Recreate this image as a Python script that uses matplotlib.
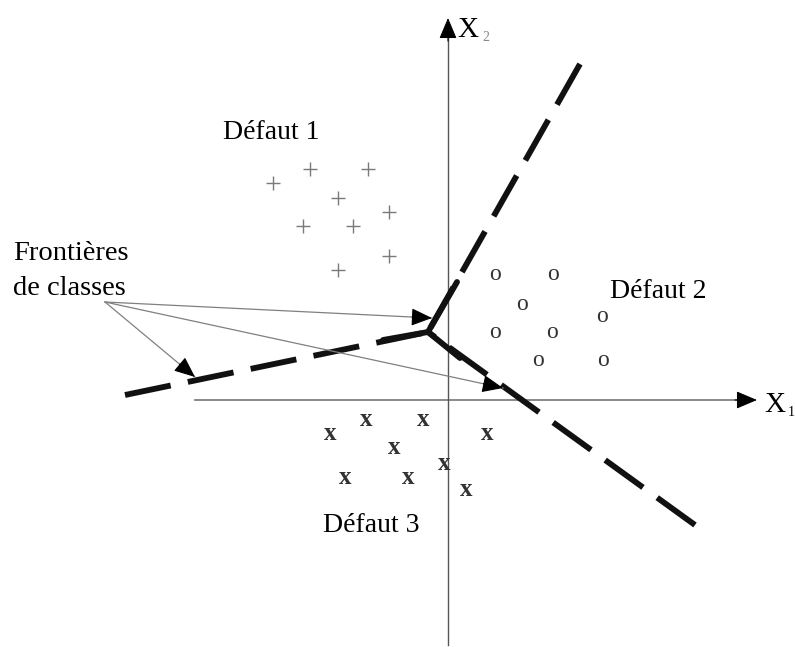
import matplotlib.pyplot as plt
from matplotlib.patches import FancyArrowPatch

# canvas in pixel units (y grows downward, like the scan)
W, H = 795, 647

# class samples
plus_x = [273, 310, 368, 338, 389, 303, 353, 389, 338]
plus_y = [183, 169, 169, 198, 212, 226, 226, 256, 270]
o_x = [495, 553, 522, 602, 495, 552, 538, 603]
o_y = [273, 272, 302, 315, 330, 330, 358, 358]
x_x = [330, 366, 423, 394, 345, 408, 444, 487, 466]
x_y = [432, 418, 418, 447, 477, 477, 463, 432, 489]

# class boundaries: three branches from one junction
junction = (428, 332)
branch_ends = [(580, 64), (125, 395), (695, 525)]
branch_solid = [(457, 282), (383, 340), (460, 358)]

# "Frontières de classes" pointers
label_src = (105, 302)
label_tips = [(432, 318), (195, 377), (503, 388)]

# axes X1 / X2
x1_start, x1_end, x1_tip, x1_y = 195, 740, 757, 400
x2_start, x2_end, x2_tip, x2_x = 645, 36, 18, 448

fig = plt.figure(figsize=(W / 100, H / 100), dpi=100)
ax = fig.add_axes([0, 0, 1, 1])
ax.set_xlim(0, W)
ax.set_ylim(H, 0)
ax.axis('off')

serif = ['Liberation Serif', 'DejaVu Serif']
axcol = '#808080'


def head(p0, p1, lw=0.8):
    a = FancyArrowPatch(p0, p1, arrowstyle='-|>,head_length=13,head_width=5.5',
                        mutation_scale=1, color='black', lw=lw,
                        shrinkA=0, shrinkB=0, zorder=5)
    ax.add_patch(a)


# coordinate axes
ax.plot([x1_start, x1_end], [x1_y, x1_y], color=axcol, lw=1.3)
head((x1_end - 5, x1_y), (x1_tip, x1_y))
ax.plot([x2_x, x2_x], [x2_start, x2_end], color='#555555', lw=1.0)
head((x2_x, x2_end + 5), (x2_x, x2_tip))
ax.text(764, 412, 'X', fontsize=21, family=serif, ha='left', va='baseline')
ax.text(788, 416, '1', fontsize=10, family=serif, ha='left', va='baseline')
ax.text(457, 37, 'X', fontsize=21, family=serif, ha='left', va='baseline')
ax.text(482, 41, '2', fontsize=10, family=serif, ha='left', va='baseline', color='#888888')

# samples
ax.plot(plus_x, plus_y, ls='none', marker='+', ms=10, mew=1.0, color='#7a7a7a')
for xx, yy in zip(o_x, o_y):
    ax.text(xx, yy + 2, 'o', fontsize=17, family=serif, ha='center', va='center', color='#333333')
for xx, yy in zip(x_x, x_y):
    ax.text(xx, yy + 1, 'x', fontsize=18, family=serif, fontweight='bold',
            ha='center', va='center', color='#333333')

# boundaries
for (ex, ey), (sx, sy) in zip(branch_ends, branch_solid):
    ax.plot([ex, junction[0]], [ey, junction[1]], color='#111111', lw=4.2,
            dashes=(8, 3), solid_capstyle='butt', dash_capstyle='butt')
    ax.plot([sx, junction[0]], [sy, junction[1]], color='#111111', lw=4.2,
            solid_capstyle='round')

# pointers
for tx, ty in label_tips:
    ax.plot([label_src[0], tx], [label_src[1], ty], color='#808080', lw=0.9)
    dx, dy = tx - label_src[0], ty - label_src[1]
    n = (dx ** 2 + dy ** 2) ** 0.5
    head((tx - dx / n * 20, ty - dy / n * 20), (tx, ty))

# texts
ax.text(223, 139, 'Défaut 1', fontsize=20, family=serif, va='baseline')
ax.text(610, 298, 'Défaut 2', fontsize=20, family=serif, va='baseline')
ax.text(323, 532, 'Défaut 3', fontsize=20, family=serif, va='baseline')
ax.text(13, 260, 'Frontières', fontsize=20.5, family=serif, va='baseline')
ax.text(13, 295, 'de classes', fontsize=20.5, family=serif, va='baseline')

fig.savefig('out.png', dpi=100)
